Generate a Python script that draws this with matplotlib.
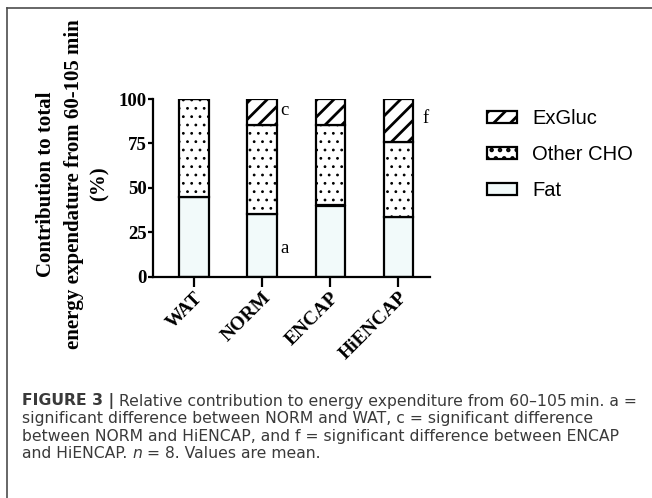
import matplotlib
matplotlib.use('Agg')
import matplotlib.pyplot as plt
from matplotlib.patches import Patch
from matplotlib.lines import Line2D
import numpy as np

# ---------------- data ----------------
categories = ['WAT', 'NORM', 'ENCAP', 'HiENCAP']
fat = [45.0, 35.0, 40.0, 33.5]
other_cho = [55.0, 50.5, 45.5, 42.0]
exgluc = [0.0, 14.5, 14.5, 24.5]
yticks = [0, 25, 50, 75, 100]
series_names = ['ExGluc', 'Other CHO', 'Fat']
sig_letters = ['a', 'c', 'f']
ylabel_lines = ['Contribution to total', 'energy expendature from 60-105 min', '(%)']
caption_lines = [
    [('FIGURE 3 |', 'bold', 'normal'), (' Relative contribution to energy expenditure from 60\u2013105\u2009min. a =', 'normal', 'normal')],
    [('significant difference between NORM and WAT, c = significant difference', 'normal', 'normal')],
    [('between NORM and HiENCAP, and f = significant difference between ENCAP', 'normal', 'normal')],
    [('and HiENCAP. ', 'normal', 'normal'), ('n', 'normal', 'italic'), (' = 8. Values are mean.', 'normal', 'normal')],
]

W, H = 652, 498
plt.rcParams['hatch.color'] = 'black'

fig = plt.figure(figsize=(W / 100, H / 100), dpi=100)
fig.patch.set_facecolor('white')

def fx(x):
    return x / W

def fy(y):
    return 1 - y / H

# axes placement (pixels from top-left)
ax_l, ax_r, ax_t, ax_b = 152.5, 429.5, 99.0, 276.5
ax = fig.add_axes([fx(ax_l), fy(ax_b), (ax_r - ax_l) / W, (ax_b - ax_t) / H])

x = np.arange(len(categories))
fat_a = np.array(fat)
oth_a = np.array(other_cho)
exg_a = np.array(exgluc)
bw = 0.43
lw = 1.6
fat_color = '#F2FAFA'
DOT_LW = 0.8
STRIPE_LW = 2.0


def set_hlw(artists, value):
    for a in artists:
        if hasattr(a, 'set_hatch_linewidth'):
            a.set_hatch_linewidth(value)


plt.rcParams['hatch.linewidth'] = STRIPE_LW
ax.bar(x, fat_a, width=bw, color=fat_color, edgecolor='black', linewidth=lw, zorder=2)
plt.rcParams['hatch.linewidth'] = DOT_LW
b2 = ax.bar(x, oth_a, width=bw, bottom=fat_a, color='white', edgecolor='black', linewidth=lw, hatch='..', zorder=2)
set_hlw(b2, DOT_LW)
plt.rcParams['hatch.linewidth'] = STRIPE_LW
b3 = ax.bar(x, exg_a, width=bw, bottom=fat_a + oth_a, color='white', edgecolor='black', linewidth=lw, hatch='//', zorder=2)
set_hlw(b3, STRIPE_LW)

ax.set_xlim(-0.607, 3.456)
ax.set_ylim(0, 100)
ax.set_yticks(yticks)
ax.set_xticks(x)
ax.set_xticklabels(categories, rotation=45, ha='right', rotation_mode='anchor',
                   fontfamily='Liberation Serif', fontweight='bold', fontsize=14)
ax.set_yticklabels([str(v) for v in yticks], fontfamily='Liberation Serif', fontweight='bold', fontsize=13.5)
for s in ['top', 'right']:
    ax.spines[s].set_visible(False)
for s in ['left', 'bottom']:
    ax.spines[s].set_linewidth(1.6)
ax.tick_params(axis='y', width=1.6, length=3.5, color='black', pad=0.5)
ax.tick_params(axis='x', width=1.6, length=7, color='black', pad=2)
ax.set_facecolor('none')

# significance letters
sig_pos = [(1.27, 16.0), (1.27, 93.5), (3.35, 89.0)]
for letter, (px_, py_) in zip(sig_letters, sig_pos):
    ax.text(px_, py_, letter, fontfamily='Liberation Serif', fontsize=13.5, ha='left', va='center')

# legend
leg_handles = [
    Patch(facecolor='white', edgecolor='black', linewidth=lw, hatch='//'),
    Patch(facecolor='white', edgecolor='black', linewidth=lw, hatch='..'),
    Patch(facecolor=fat_color, edgecolor='black', linewidth=lw),
]
set_hlw(leg_handles[:1], STRIPE_LW)
set_hlw(leg_handles[1:2], DOT_LW)
leg = fig.legend(leg_handles, series_names, loc='upper left', bbox_to_anchor=(fx(487), fy(109)),
                 bbox_transform=fig.transFigure, frameon=False, borderpad=0, borderaxespad=0,
                 handlelength=1.5, handleheight=0.5, handletextpad=0.75, labelspacing=0.85,
                 prop={'family': 'Liberation Sans', 'size': 14.5})

# y label (three centred lines)
ylabel_x = [46, 74, 100]
for xx, line in zip(ylabel_x, ylabel_lines):
    fig.text(fx(xx), fy(184), line, rotation=90, ha='center', va='center',
             fontfamily='Liberation Serif', fontweight='bold', fontsize=15)

# frame (top and left border)
fig.add_artist(Line2D([fx(7), 1], [fy(8), fy(8)], color='#4d4d4d', linewidth=1.2))
fig.add_artist(Line2D([fx(7), fx(7)], [0, fy(8)], color='#4d4d4d', linewidth=1.2))

# caption
fig.canvas.draw()
renderer = fig.canvas.get_renderer()
CAP_FONT = 'DejaVu Sans'
cap_x0 = 22.0
cap_x1 = 626.0
probe = fig.text(0, 0, ''.join(p[0] for p in caption_lines[0]), fontfamily=CAP_FONT, fontsize=10)
probe_w = probe.get_window_extent(renderer).width
probe.remove()
cap_size = 10 * (cap_x1 - cap_x0) / probe_w


def space_width(size):
    a = fig.text(0, 0, 'a a', fontfamily=CAP_FONT, fontsize=size)
    b = fig.text(0, 0, 'aa', fontfamily=CAP_FONT, fontsize=size)
    w = a.get_window_extent(renderer).width - b.get_window_extent(renderer).width
    a.remove(); b.remove()
    return w


spw = space_width(cap_size)
cap_y = [401, 418.5, 436, 453.5]
for yy, parts in zip(cap_y, caption_lines):
    xx = cap_x0
    for txt, weight, style in parts:
        lead = len(txt) - len(txt.lstrip(' '))
        trail = len(txt) - len(txt.rstrip(' '))
        body = txt.strip(' ')
        xx += spw * lead
        t = fig.text(fx(xx), fy(yy), body, fontfamily=CAP_FONT, fontsize=cap_size,
                     fontweight=weight, fontstyle=style, color='#3a3a3a', ha='left', va='center')
        xx += t.get_window_extent(renderer).width
        xx += spw * trail

fig.savefig('out.png', dpi=100, facecolor='white')
